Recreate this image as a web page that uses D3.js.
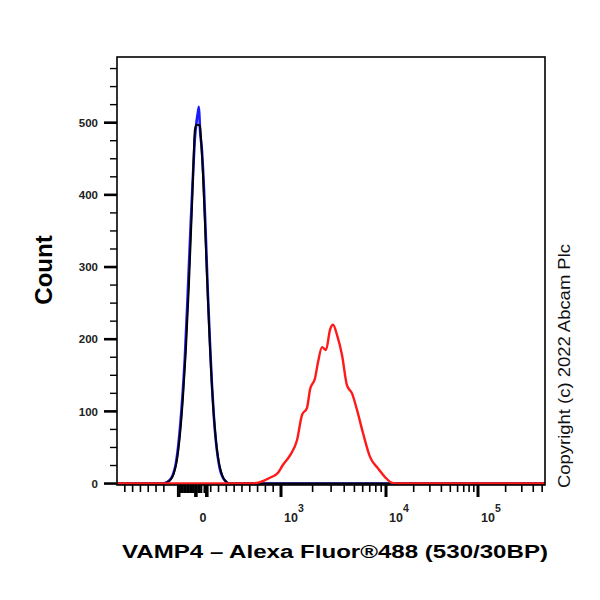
<!DOCTYPE html>
<html>
<head>
<meta charset="utf-8">
<script src="https://cdn.jsdelivr.net/npm/d3@7"></script>
<style>
    body { margin: 0; background: #fff; }
    text { font-family: Arial, "Liberation Sans", sans-serif; }
</style>
</head>
<body>
<svg id="hist" width="600" height="600"></svg>
<script>
// fluorescence values (x) and counts (y)
const blueX = [-1100, -513, -462, -423, -385, -346, -308, -269, -231, -192, -154, -128, -103, -77, -64, -51, -38, -13, 13, 38, 64, 90, 115, 141, 167, 192, 218, 244, 282, 333, 537000];
const blueY = [0, 0, 2, 5, 12, 28, 60, 110, 175, 268, 365, 425, 478, 505, 514, 522, 492, 462, 410, 340, 262, 195, 138, 92, 58, 36, 20, 11, 4, 0, 0];

const blackX = [-1100, -500, -449, -410, -372, -333, -295, -256, -218, -179, -141, -115, -103, -77, -38, -26, 0, 26, 51, 77, 103, 128, 154, 179, 205, 231, 256, 295, 346, 537000];
const blackY = [0, 0, 2, 6, 14, 32, 66, 118, 185, 275, 380, 462, 490, 497, 496, 480, 430, 362, 290, 222, 160, 112, 75, 48, 29, 17, 9, 3, 0, 0];

const redX = [-1100, 590, 731, 859, 962, 1045, 1218, 1420, 1585, 1769, 1889, 2108, 2251, 2458, 2683, 2929, 3128, 3415, 3811, 4252, 4746, 5295, 6039, 7040, 8391, 9783, 11620, 13170, 537000];
const redY = [0, 0, 2, 8, 15, 26, 39, 60, 95, 105, 130, 146, 168, 189, 185, 213, 220, 206, 178, 136, 125, 102, 70, 37, 21, 9, 1, 0, 0];

const yMajorTicks = [0, 100, 200, 300, 400, 500];
const yMinorTicks = [25, 50, 75, 125, 150, 175, 225, 250, 275, 325, 350, 375, 425, 450, 475, 525, 550, 575];

const xMajorTicks = [0, 1000, 10000, 100000];
const xMajorLabels = [["0", ""], ["10", "3"], ["10", "4"], ["10", "5"]];
const xMinorTicks = [-1000, -900, -800, -700, -600, -500,
    100, 200, 300, 400, 500, 600, 700, 800, 900,
    2000, 3000, 4000, 5000, 6000, 7000, 8000, 9000,
    20000, 30000, 40000, 50000, 60000, 70000, 80000, 90000,
    200000, 300000, 400000, 500000];
const xZeroTicks = [-320, -300, -280, -260, -240, -220, -200, -180, -160, -140, -120, -100, -80, -60, -40, -20, 20, 40, 60];
const xZeroLong = [-320, -300, -100, -80, 40, 60];

const chart = d3.select("#hist");
const plotLeft = 117, plotRight = 545, plotTop = 57, plotBottom = 485;

// biexponential-like display: linear around zero, log above 10^3
function biex(v) {
    return v <= 1000 ? v / 1000 : 1 + Math.log10(v / 1000);
}
const xt = d3.scaleLinear()
    .domain([-1.1, 1, 2, 3, 3.73])
    .range([plotLeft, 281, 386, 478, plotRight]);
const x = v => xt(biex(v));

const y = d3.scaleLinear().domain([-2, 591]).range([plotBottom, plotTop]);

// curves
function drawCurve(data, color, width) {
    const line = d3.line()
        .x(d => x(d[0]))
        .y(d => y(d[1]))
        .curve(d3.curveMonotoneX);
    chart.append("path")
        .datum(data)
        .attr("d", line)
        .attr("fill", "none")
        .attr("stroke", color)
        .attr("stroke-width", width)
        .attr("stroke-linejoin", "round");
}

drawCurve(d3.zip(blueX, blueY), "#1a1aff", 2.6);
drawCurve(d3.zip(blackX, blackY), "#000000", 2);
drawCurve(d3.zip(redX, redY), "#ff1a1a", 2.4);

// frame
chart.append("rect")
    .attr("x", plotLeft)
    .attr("y", plotTop)
    .attr("width", plotRight - plotLeft)
    .attr("height", plotBottom - plotTop)
    .attr("fill", "none")
    .attr("stroke", "#000")
    .attr("stroke-width", 1.6);

// y axis ticks
const yaxis = chart.append("g").attr("id", "yaxis");
yaxis.selectAll(".major")
    .data(yMajorTicks)
    .enter()
    .append("line")
    .attr("class", "major")
    .attr("x1", plotLeft - 13).attr("x2", plotLeft)
    .attr("y1", d => y(d)).attr("y2", d => y(d))
    .attr("stroke", "#000").attr("stroke-width", 2.6);
yaxis.selectAll(".minor")
    .data(yMinorTicks)
    .enter()
    .append("line")
    .attr("class", "minor")
    .attr("x1", plotLeft - 7).attr("x2", plotLeft)
    .attr("y1", d => y(d)).attr("y2", d => y(d))
    .attr("stroke", "#000").attr("stroke-width", 1.4);
yaxis.selectAll("text")
    .data(yMajorTicks)
    .enter()
    .append("text")
    .text(d => d)
    .attr("x", plotLeft - 19)
    .attr("y", d => y(d))
    .attr("dy", "0.36em")
    .attr("text-anchor", "end")
    .attr("font-size", "11.5px")
    .attr("font-weight", "bold")
    .attr("fill", "#222");

// x axis ticks
const xaxis = chart.append("g").attr("id", "xaxis");
xaxis.selectAll(".minor")
    .data(xMinorTicks)
    .enter()
    .append("line")
    .attr("class", "minor")
    .attr("x1", d => x(d)).attr("x2", d => x(d))
    .attr("y1", plotBottom).attr("y2", plotBottom + 7)
    .attr("stroke", "#000").attr("stroke-width", 1.6);
xaxis.selectAll(".zero")
    .data(xZeroTicks)
    .enter()
    .append("line")
    .attr("class", "zero")
    .attr("x1", d => x(d)).attr("x2", d => x(d))
    .attr("y1", plotBottom).attr("y2", d => plotBottom + (xZeroLong.includes(d) ? 12 : 8))
    .attr("stroke", "#000").attr("stroke-width", 2);
xaxis.selectAll(".major")
    .data(xMajorTicks.slice(1))
    .enter()
    .append("line")
    .attr("class", "major")
    .attr("x1", d => x(d)).attr("x2", d => x(d))
    .attr("y1", plotBottom).attr("y2", plotBottom + 12)
    .attr("stroke", "#000").attr("stroke-width", 3);

const xlabels = xaxis.selectAll(".lbl")
    .data(xMajorTicks)
    .enter()
    .append("text")
    .attr("class", "lbl")
    .attr("x", (d, i) => i === 0 ? x(d) : x(d) + 3)
    .attr("y", 522)
    .attr("text-anchor", (d, i) => i === 0 ? "middle" : "start")
    .attr("font-size", "12.5px")
    .attr("font-weight", "bold")
    .attr("fill", "#222");
xlabels.append("tspan").text((d, i) => xMajorLabels[i][0]);
xlabels.append("tspan")
    .text((d, i) => xMajorLabels[i][1])
    .attr("dy", -10)
    .attr("font-size", "10.5px");

// titles
chart.append("text")
    .text("Count")
    .attr("transform", "translate(52, 270) rotate(-90)")
    .attr("text-anchor", "middle")
    .attr("font-size", "24px")
    .attr("font-weight", "bold");

chart.append("text")
    .text("VAMP4 – Alexa Fluor®488 (530/30BP)")
    .attr("x", 122)
    .attr("y", 558)
    .attr("font-size", "18px")
    .attr("font-weight", "bold")
    .attr("textLength", 426)
    .attr("lengthAdjust", "spacingAndGlyphs");

chart.append("text")
    .text("Copyright (c) 2022 Abcam Plc")
    .attr("transform", "translate(570, 488) rotate(-90)")
    .attr("font-size", "16px")
    .attr("fill", "#111")
    .attr("textLength", 244)
    .attr("lengthAdjust", "spacingAndGlyphs");
</script>
</body>
</html>
